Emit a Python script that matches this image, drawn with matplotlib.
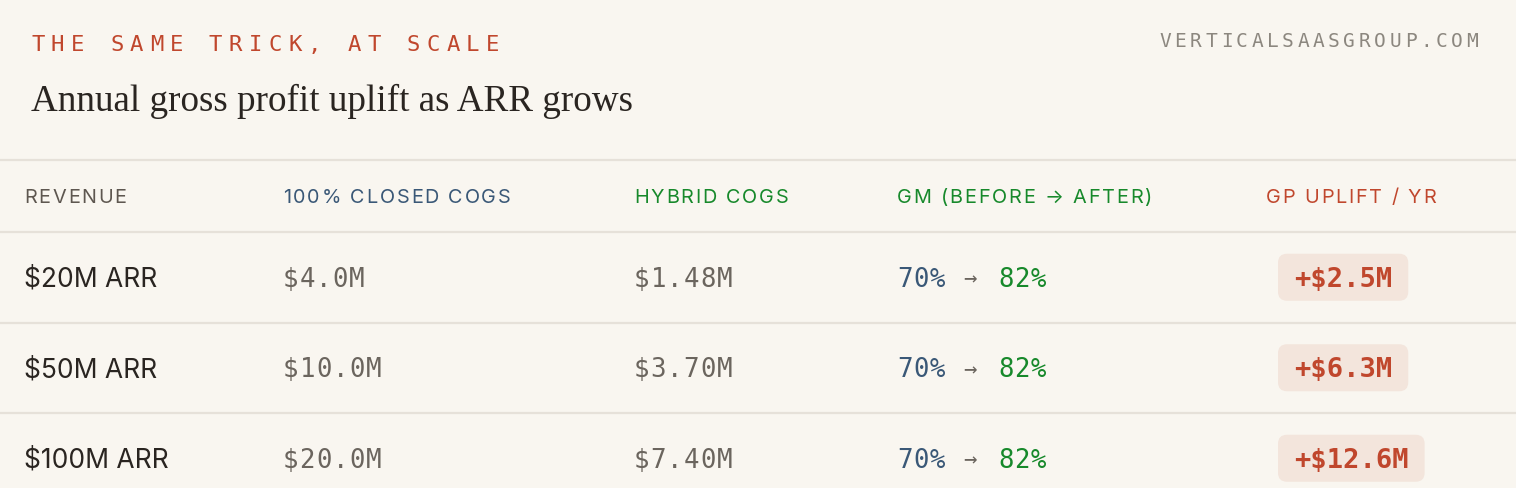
import matplotlib
matplotlib.use("Agg")
import matplotlib.pyplot as plt
from matplotlib.patches import FancyBboxPatch
from matplotlib.font_manager import FontProperties

# table data
revenue_arr = [20, 50, 100]          # $M ARR
closed_cogs = [4.0, 10.0, 20.0]      # $M, 100% closed models
hybrid_cogs = [1.48, 3.70, 7.40]     # $M, hybrid routing
gm_before = [70, 70, 70]             # %
gm_after = [82, 82, 82]              # %
gp_uplift = [2.5, 6.3, 12.6]         # $M per year

headers = ["REVENUE", "100% CLOSED COGS", "HYBRID COGS", "GM (BEFORE \u2192 AFTER)", "GP UPLIFT / YR"]

BG = "#f9f6f0"
LINE = "#e6e1d9"
RED = "#c0472d"
BLUE = "#3a5877"
GREEN = "#17892b"
DARK = "#2a2521"
GREY = "#6b655e"
MUTED = "#8c877f"
BADGE = "#f3e5dc"

W, H = 1516, 488
fig = plt.figure(figsize=(W / 100, H / 100), dpi=100)
fig.patch.set_facecolor(BG)
ax = fig.add_axes([0, 0, 1, 1])
ax.set_xlim(0, W)
ax.set_ylim(H, 0)
ax.axis("off")
ax.set_facecolor(BG)

renderer = fig.canvas.get_renderer()

mono = FontProperties(family="DejaVu Sans Mono", size=18.5)
mono_bold = FontProperties(family="DejaVu Sans Mono", size=19.5, weight="bold")
arrow_fp = FontProperties(family="DejaVu Sans Mono", size=16)
kicker_fp = FontProperties(family="DejaVu Sans Mono", size=16)
mark_fp = FontProperties(family="DejaVu Sans Mono", size=14)
title_fp = FontProperties(family="Liberation Serif", size=26.7)
head_fp = FontProperties(family="Inter", size=14.3)
row_fp = FontProperties(family="Inter", size=19)


def text_w(s, fp):
    w, h, d = renderer.get_text_width_height_descent(s, fp, ismath=False)
    return w


def spaced(x, y, s, fp, track, color, ha="left"):
    # letter-spaced text, one glyph at a time
    wx = text_w("x", fp)
    offs = [text_w(s[:i] + "x", fp) - wx for i in range(len(s))]
    total = text_w(s, fp) + track * (len(s) - 1)
    if ha == "right":
        x = x - total
    for i, ch in enumerate(s):
        if ch != " ":
            ax.text(x + offs[i] + i * track, y, ch, fontproperties=fp,
                    color=color, va="baseline", ha="left")


# top block
spaced(31, 51, "THE SAME TRICK, AT SCALE", kicker_fp, 6.4, RED)
spaced(1478, 47, "VERTICALSAASGROUP.COM", mark_fp, 3.6, MUTED, ha="right")
ax.text(31, 111, "Annual gross profit uplift as ARR grows", fontproperties=title_fp,
        color=DARK, va="baseline", ha="left")

# grid lines
header_line = 160
row_step = 90.5
first_line = 232
ax.hlines(header_line, 0, W, color=LINE, lw=1.6)
for i in range(len(revenue_arr)):
    ax.hlines(first_line + i * row_step, 0, W, color=LINE, lw=1.6)

# header row
col_x = [24, 283, 634, 897, 1266]
head_colors = ["#5e5750", BLUE, GREEN, GREEN, RED]
for x, lab, c in zip(col_x, headers, head_colors):
    spaced(x, 203, lab, head_fp, 1.8, c)

# body rows
for i in range(len(revenue_arr)):
    cy = first_line + row_step / 2 + i * row_step
    base = cy + 9.5
    ax.text(col_x[0], base, f"${revenue_arr[i]}M ARR", fontproperties=row_fp,
            color=DARK, va="baseline", ha="left")
    spaced(col_x[1], base, f"${closed_cogs[i]:.1f}M", mono, 1.0, GREY)
    spaced(col_x[2], base, f"${hybrid_cogs[i]:.2f}M", mono, 1.0, GREY)
    # gross margin before -> after
    spaced(col_x[3], base, f"{gm_before[i]}%", mono, 1.0, BLUE)
    ax.text(col_x[3] + 73, base - 1, "\u2192", fontproperties=arrow_fp,
            color=GREY, va="baseline", ha="center")
    spaced(col_x[3] + 101, base, f"{gm_after[i]}%", mono, 1.0, GREEN)
    # uplift badge
    lab = f"+${gp_uplift[i]:.1f}M"
    tw = text_w(lab, mono_bold)
    bx = 1278
    badge = FancyBboxPatch((bx, cy - 23.5), tw + 32, 47,
                           boxstyle="round,pad=0,rounding_size=9",
                           facecolor=BADGE, edgecolor="none")
    ax.add_patch(badge)
    ax.text(bx + 16, base, lab, fontproperties=mono_bold,
            color=RED, va="baseline", ha="left")

fig.savefig("out.png", dpi=100, facecolor=BG)
